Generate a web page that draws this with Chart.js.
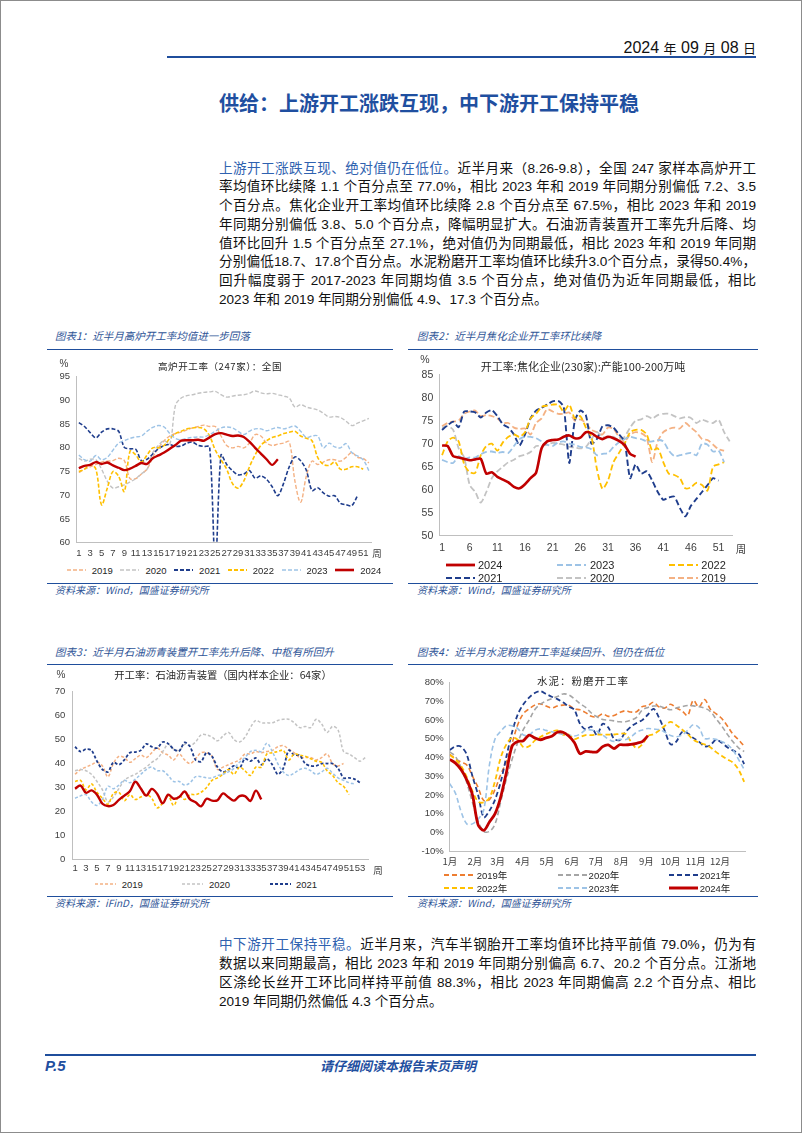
<!DOCTYPE html>
<html><head><meta charset="utf-8">
<script src="https://cdn.jsdelivr.net/npm/chart.js@4.4.0/dist/chart.umd.min.js"></script>
<style>
html,body{margin:0;padding:0;background:#fff;}
#page{position:relative;width:802px;height:1133px;overflow:hidden;font-family:"Liberation Sans","Noto Sans CJK SC",sans-serif;color:#111;}
#frame{position:absolute;left:0;top:0;width:802px;height:1133px;box-sizing:border-box;border:1px solid #8c8c8c;pointer-events:none;}
.abs{position:absolute;white-space:nowrap;}
.rule{position:absolute;height:0;border-top:2px solid #1f4e9c;}
.thin{border-top-width:1.5px;}
.cap{font-family:"Noto Sans CJK SC",sans-serif;font-style:italic;color:#2f5597;font-size:10.5px;line-height:12px;}
.src{font-family:"Noto Sans CJK SC",sans-serif;font-style:italic;color:#2f5597;font-size:10px;line-height:12px;}
.jl{position:absolute;left:219px;width:537px;height:19px;line-height:19px;font-size:13.6px;white-space:nowrap;text-align:justify;text-align-last:justify;font-family:"Liberation Sans Narrow","Liberation Sans","Noto Sans CJK SC",sans-serif;color:#111;}
.jl .cj{font-family:"Noto Sans CJK SC",sans-serif;}
.lead{color:#2f62b0;}
.ctitle{position:absolute;white-space:nowrap;font-family:"Noto Sans CJK SC",sans-serif;color:#262626;transform:translate(-50%,-50%);}
.unit{position:absolute;font-family:"Liberation Sans","Noto Sans CJK SC",sans-serif;color:#404040;transform:translate(-50%,-50%);white-space:nowrap;}
.box{position:absolute;}
.lg{position:absolute;font-family:"Liberation Sans","Noto Sans CJK SC",sans-serif;color:#262626;white-space:nowrap;transform:translateY(-50%);}
</style></head>
<body>
<div id="page">
  <div class="abs" style="right:46px;top:38px;font-size:16px;line-height:20px;font-family:'Liberation Sans Narrow','Liberation Sans','Noto Sans CJK SC',sans-serif;color:#111;">2024 <span style="font-family:'Noto Sans CJK SC';font-size:13px;">年</span> 09 <span style="font-family:'Noto Sans CJK SC';font-size:13px;">月</span> 08 <span style="font-family:'Noto Sans CJK SC';font-size:13px;">日</span></div>
  <div class="rule" style="left:167px;width:589px;top:56px;"></div>

  <div class="abs" style="left:219px;top:90px;font-size:20px;line-height:26px;font-weight:bold;color:#1f4fa0;font-family:'Noto Sans CJK SC',sans-serif;">供给：上游开工涨跌互现，中下游开工保持平稳</div>

  <div id="para1"></div>

  <!-- captions and rules -->
  <div class="abs cap" style="left:55px;top:330px;">图表1：近半月高炉开工率均值进一步回落</div>
  <div class="rule thin" style="left:47px;width:346px;top:349px;"></div>
  <div class="rule thin" style="left:47px;width:346px;top:582.5px;"></div>
  <div class="abs src" style="left:55px;top:584px;">资料来源：Wind，国盛证券研究所</div>

  <div class="abs cap" style="left:417px;top:330px;">图表2：近半月焦化企业开工率环比续降</div>
  <div class="rule thin" style="left:408px;width:350px;top:349px;"></div>
  <div class="rule thin" style="left:408px;width:350px;top:582.5px;"></div>
  <div class="abs src" style="left:417px;top:584px;">资料来源：Wind，国盛证券研究所</div>

  <div class="abs cap" style="left:55px;top:646px;">图表3：近半月石油沥青装置开工率先升后降、中枢有所回升</div>
  <div class="rule thin" style="left:47px;width:346px;top:663.5px;"></div>
  <div class="rule thin" style="left:47px;width:346px;top:895.5px;"></div>
  <div class="abs src" style="left:55px;top:897px;">资料来源：iFinD，国盛证券研究所</div>

  <div class="abs cap" style="left:417px;top:646px;">图表4：近半月水泥粉磨开工率延续回升、但仍在低位</div>
  <div class="rule thin" style="left:408px;width:350px;top:663.5px;"></div>
  <div class="rule thin" style="left:408px;width:350px;top:895.5px;"></div>
  <div class="abs src" style="left:417px;top:897px;">资料来源：Wind，国盛证券研究所</div>

  <!-- charts -->
  <div class="box" style="left:42px;top:360px;width:345px;height:200px;"><canvas id="c1"></canvas></div>
  <div class="box" style="left:410px;top:358px;width:340px;height:200px;"><canvas id="c2"></canvas></div>
  <div class="box" style="left:42px;top:672px;width:340px;height:203px;"><canvas id="c3"></canvas></div>
  <div class="box" style="left:405px;top:665px;width:355px;height:210px;"><canvas id="c4"></canvas></div>

  <div class="ctitle" style="left:220px;top:366px;font-size:9.5px;letter-spacing:0.6px;">高炉开工率（247家）：全国</div>
  <div class="unit" style="left:64px;top:363px;font-size:10px;">%</div>
  <div class="unit" style="left:377px;top:553px;font-size:9.5px;">周</div>

  <div class="ctitle" style="left:583px;top:366px;font-size:11px;">开工率:焦化企业(230家):产能100-200万吨</div>
  <div class="unit" style="left:425px;top:359px;font-size:10.5px;">%</div>
  <div class="unit" style="left:741px;top:548px;font-size:10.5px;">周</div>

  <div class="ctitle" style="left:223px;top:674px;font-size:10.3px;">开工率：石油沥青装置（国内样本企业：64家）</div>
  <div class="unit" style="left:61px;top:674px;font-size:10px;">%</div>
  <div class="unit" style="left:378px;top:870px;font-size:9.5px;">周</div>

  <div class="ctitle" style="left:583px;top:680px;font-size:10.5px;letter-spacing:1px;">水泥：粉磨开工率</div>

  <div id="legends"></div>

  <div id="para2"></div>

  <div class="rule" style="left:45px;width:711px;top:1054px;"></div>
  <div class="abs" style="left:45px;top:1057px;font-size:15px;line-height:18px;font-weight:bold;font-style:italic;color:#1f4fa0;">P.5</div>
  <div class="abs" style="left:320px;top:1057px;font-size:13px;line-height:18px;font-weight:bold;font-style:italic;color:#1f4fa0;font-family:'Noto Sans CJK SC',sans-serif;">请仔细阅读本报告末页声明</div>
  <div id="frame"></div>
</div>
<script>
// ===== DATA =====
// Chart 1: blast furnace operating rate (247 mills), weekly
const bfWeeks = Array.from({length:52},(_, i)=>String(i+1));
const bf2019 = [74.8,75.5,76,76.5,77,77.2,77.3,77.8,77.3,73.5,73.5,74.5,75.5,78,80,81.5,82.5,83,83.3,83.8,84.2,84.5,84.8,84.5,84.5,82.5,80.5,80,80.3,80,81,82.8,82.5,81,80.5,80.8,81,81.3,73,68.5,74,77.2,76.5,77,77.5,77.5,77.2,78,79,78,77.8,76.8];
const bf2020 = [77.8,77.2,77.6,77.5,75.5,73,71.5,71.8,72.2,72.8,73.5,74.5,75.5,79,80.5,81.5,80.8,89,90.5,91,91.2,91.5,91.7,91.8,91.9,91.2,90.7,90.9,91.1,91.2,91.5,92,91.6,91.4,91.5,91.2,90.9,90.5,88.6,89.1,88.6,88.3,88,87.3,86.5,86.6,86.4,85.6,84.7,85.2,85.7,86.2];
const bf2021 = [85.3,84.5,83.2,82.1,83.3,84,84,83.5,80.1,79.8,79.7,77.3,77.6,78.7,79.8,80.5,80.7,80.3,80.4,81,81.2,80.5,80.3,80.2,55,78.5,76.5,75.2,74.3,74.5,75.2,73.6,74.1,73.4,71.8,69.9,72.5,76,78.1,77.3,75.3,71,71.6,70.5,69.8,69.9,68.3,68,67.8,69.9];
const bf2022 = [75,75.5,76.5,75.5,68,71.5,75,74,70.8,79.3,78.5,77,78.5,80,80,80.5,82,83,83.5,84,84.2,84.3,84,82.5,79.5,77.5,75.5,72.5,71.5,73,76,78.5,80.5,81.5,82.2,82.5,83,83.3,83.5,82.5,82,81.5,78,76.5,76.3,77,75.5,75.5,76,76,75.5];
const bf2023 = [78.5,77.5,77.2,78.4,77.5,78,79.5,81,81.5,82,82.3,82.5,83.5,84.3,84.7,84.4,83,82,81.7,82,82.2,82.3,82.3,82.8,83.5,84.2,84.4,84.2,83.5,82.8,83.5,84,84,83.6,84,84.3,84,84.3,84.6,83.5,82.2,82.5,82.5,80,81,80.2,80,80.9,79,78.3,77.5,75.2];
const bf2024 = [75.7,76.2,76.4,77,76.6,76.9,76.3,75.8,75.3,75.6,76.2,76.8,76.6,77.8,78.4,79,79.8,80.6,81.5,81.6,81.6,81.7,81.5,82.2,82.9,83.1,82.8,82.5,82.6,82.3,81.3,80,78.8,77.6,76.4,77.6];

// Chart 2: coking plants operating rate (230 plants, capacity 100-200 Mt), weekly
const ckWeeks = Array.from({length:53},(_, i)=>String(i+1));
const ck2019 = [73.8,74.5,74.8,75,76.5,77,77.2,76,76.2,76,75.5,74.5,74.5,73.5,73.2,73.3,72,74.5,75.5,77.5,77,76.5,76.5,76.8,75,75.3,74.5,73,72.5,72,73.5,73.2,71.5,70.5,72,72.5,72.3,71.3,66,70.5,72.5,73.2,73.5,73.3,74.5,73.5,72.5,71,70.8,69.8,68.8,68.5];
const ck2020 = [73.5,73.8,73,69,67,61,59.5,57.2,59.5,62.5,64,65,66,66.5,67.3,67.6,68.2,69.5,69.5,69.8,70.2,70,69.8,69.3,69.2,69,69.3,71,72.5,71.5,71.3,71.5,70.8,71.5,73.5,75,75.3,76,75.5,76.2,76.5,76.5,76,75.5,75.8,75.6,74.5,75.2,74.8,74.5,75.2,72.5,70.5];
const ck2021 = [73,74,74.8,73.6,77,77,76.8,75.7,76.8,77.3,76,74.2,73.5,72,69.6,72,75.5,77.2,77.8,78.5,79.2,79.3,78,65.8,75,77.2,76.2,70,71,73.8,74,73.5,72,70.5,62.5,65.5,63.5,64,62,59.5,57.8,58.3,58.5,56,54.2,56.5,58,59.5,61,62.5,62];
const ck2022 = [67.5,70.5,71.3,70.5,65.5,63.8,63.7,67.5,69.5,70,68.5,70.3,71.5,72,71.5,72.5,75.5,76.5,78,78.3,78.5,78.5,77,78.5,75.5,76,73.5,71.5,64.5,60.2,62,66,68,70,72.5,73,73,72,68.5,69,66,63.5,63.2,62.5,60.3,60.5,61.5,61,59.8,65,65.5,66];
const ck2023 = [66.5,66,65.8,67.3,66.7,67,67,67.7,68.2,68.3,68,68.2,68,69.5,71,71.5,71.5,71.2,70.5,69.8,69.5,70.3,70.5,70,69.8,69.3,69.2,68.8,67.5,67.8,68,69.3,70.3,71,71.5,71.2,71,70.5,70.5,70.8,70.5,68.5,67.3,67.5,67.8,68,67.5,70,69.8,68.3,68.5,66];
const ck2024 = [69.6,69.5,67.3,67,66.7,66.4,66.6,66.7,63.5,63.8,62.8,62.2,61.6,60.6,60.3,61.2,62.5,63.7,69,70.5,70.8,70.9,71.5,71.8,71.2,71.3,72.5,72.3,71.5,71,71.5,71.2,70.6,69.7,67.8,67.2];

// Chart 3: petroleum asphalt units operating rate (64 firms), weekly
const asWeeks = Array.from({length:54},(_, i)=>String(i+1));
const as2019 = [35.5,37.5,38.5,39.5,40.5,39,34.5,40,43,42.5,40.5,42,43.5,42.5,44.5,46.5,44.5,43.5,41.5,44,41.5,40,42,44.5,44.5,43,37.5,38.5,39.5,40.5,41.5,44,44,45,44.5,45,45.5,47,47.5,46,44.5,42.5,42.5,42.5,41.5,42.5,44,40,39,40];
const as2020 = [37,37.5,37,35.5,32.5,29,24,26,29.5,33,34.5,35.5,37,38.5,40.5,42,45,48,46,45.5,48,47.5,49,52,52,51,49.5,51.5,53,50,49,51,55,58,57,57,57,58,58.5,58.5,57,55,55.5,55,58.5,56.5,53,55.5,54,45,44,42.5,41,42.5];
const as2021 = [47,45,46,45.5,41,37.5,36.5,40.5,39.5,41.5,44.5,44.8,45.5,48.2,47,46.5,49,48.3,46,45.2,48.8,47,41.5,40.8,44.5,43,38.5,36.5,37.5,39,38,42,41,42.3,39.5,42,39.5,35.5,38,45.5,43.5,43.5,40,39,39,40,40,40,38,34,34,33.5,32];
const as2022 = [32.5,33,29,31.5,28,25.5,23,27.5,28,24.5,27,25,26,27,25.5,21.5,23.5,26.5,22.5,26.5,25,27,27,28,30,33,34,35.5,37.5,35.5,38.5,37,35,38.5,38.5,44,44.5,45,45.5,41.5,44,43.5,43,42,41,40.5,37,35,32,30.5,27];
const as2023 = [25.5,26.5,27,24,22.5,25,30.5,29.5,31,33,32,33.5,35.5,37.5,38.5,37,37,35,32.5,32.5,31,32,34.5,34.5,34,34,35,35.5,36.5,38,40.5,42.5,45,45.5,45,48.5,45,40,36.5,35,36,37.5,38,37,35.5,36.5,38,36,34,33,32,31.5];
const as2024 = [29.5,30.8,27.8,28.8,27,23.2,22.2,22.7,24.8,26.6,28.4,32.4,29.6,26.6,29.4,27.3,23.4,27,25.3,26,28.3,25,23.8,22.1,25.3,24.5,24.7,27.5,25.9,24.5,26.4,26.4,24.4,28.7,25];

// Chart 4: cement grinding operating rate (%), weekly through the year
const monthLabels = ['1月','2月','3月','4月','5月','6月','7月','8月','9月','10月','11月','12月'];
const monthStartDay = [0,31,59,90,120,151,181,212,243,273,304,334];
const cm2019 = [41.7,39.3,37.5,36,30,24,17,17.5,23,31,37.5,47.5,57.5,63.5,66,68,68.7,67.5,66.5,67.5,68,68,66,65.5,64,62,61.8,63.3,62,62.5,64,65,64.3,64.5,67.2,67.8,69.5,67,66.5,68.5,66.5,65,62.5,70.5,67,71,66,63.5,61,57,52.5,49.5,46];
const cm2020 = [43,40.5,34.5,26.5,16,6,0.5,0.5,4.5,16.5,28.5,39,48,55,60,65.5,68.5,70.2,71.5,72.6,74,73.5,71.4,68.8,66.8,63.8,61.8,60.3,60,59.6,59.1,59.1,60,61.5,65.4,66.8,67.5,67.4,66.5,65.5,66.5,67.2,67.8,67.6,67.2,66.4,64.7,60.8,57,52.5,48.5,45.2,43.2];
const cm2021 = [44,46,45.8,41.5,30,20,8,11.5,17.5,27,40.5,53.5,63,68.5,72,74.5,75.5,74,72.5,71.2,69.5,67.2,65.5,58,55,56.5,52,58,56,50,49.3,53.5,56.5,58.5,60,63,66,61,54,47,48.5,53.5,53,50.5,48.5,46,46.5,49.5,48,45.5,43.8,42,36.5];
const cm2022 = [41.3,39,35.5,29.5,22,16.5,16,18.5,27.5,40,47,50.5,49.5,45.5,46,49,51,52.5,53.8,54.5,52.2,52.3,49.8,51,52,52,52.3,52.2,52.2,52.3,52.6,52.7,48.5,45,47,51.5,52.5,54.5,57,59,57.3,55,52.5,49.6,48,47,45.5,43,41,39,37.3,33.5,27];
const cm2023 = [26,20.8,11,4.5,4.5,7,12,36,50,54,57,57,55.5,52,52,54.5,55.3,54.5,53.8,53,52.3,52,51.5,52.5,54.7,54.7,54,52,49.8,48.6,49.7,49.5,51,53.5,54.7,55.5,55.2,54.9,53.5,51.8,51.1,52,54.5,57.5,56,50.2,50.2,49.7,48.6,47,44,39,33.5];
const cm2024 = [39,37,33.5,28,20,4,1,5.5,10,19,32,46,48.5,49,52,50.5,49.5,50.5,51.3,53.5,53.5,51.5,48,42,43.3,43,43,45.8,46.7,44.8,46.8,46.7,47,47.6,48.5,51.7];

// ===== STYLES =====
const C = {
  o: '#f4b183', g: '#c3c3c3', db: '#1f3d8c', y: '#ffc000', lb: '#9dc3e6', r: '#c00000',
  o4: '#ed7d31', g4: '#a5a5a5'
};
Chart.defaults.font.family = '"Liberation Sans", Arial, sans-serif';
Chart.defaults.color = '#404040';
Chart.defaults.animation = false;

function ds(label, data, color, dash, width, order, tension) {
  return { label, data, borderColor: color, backgroundColor: color, borderWidth: width,
    borderDash: dash, pointRadius: 0, pointHoverRadius: 0, fill: false, tension: tension,
    order: order, spanGaps: false };
}
function baseOpts(o) {
  return {
    responsive: true, maintainAspectRatio: false, animation: false,
    layout: { padding: { top: o.padTop, right: o.padRight, left: 0, bottom: 0 } },
    plugins: { legend: { display: false }, tooltip: { enabled: false } },
    scales: {
      x: o.x,
      y: {
        min: o.ymin, max: o.ymax,
        afterFit: s => { s.width = o.yw; },
        grid: { display: false, drawTicks: false },
        border: { display: true, color: '#bfbfbf', width: 1 },
        ticks: { stepSize: o.ystep, padding: o.ypad, font: { size: o.yfont }, color: '#404040',
                 callback: o.yfmt || (v => v) }
      }
    }
  };
}
function catX(o) {
  return {
    type: 'category', offset: true,
    afterFit: s => { s.height = o.xh; },
    grid: { display: false, drawTicks: false, offset: true },
    border: { display: true, color: '#bfbfbf', width: 1 },
    ticks: { autoSkip: false, maxRotation: 0, minRotation: 0, padding: o.xpad, font: { size: o.xfont }, color: '#404040',
             callback: function(v, i) { return (i % o.every === 0) ? this.getLabelForValue(v) : ''; } }
  };
}

// Chart 1
new Chart(document.getElementById('c1'), {
  type: 'line',
  data: { labels: bfWeeks, datasets: [
    ds('2019', bf2019, C.o, [4,2], 1.4, 6, 0.35),
    ds('2020', bf2020, C.g, [4,2], 1.4, 5, 0.35),
    ds('2021', bf2021, C.db, [4,2], 1.6, 4, 0.3),
    ds('2022', bf2022, C.y, [4,2], 1.6, 3, 0.35),
    ds('2023', bf2023, C.lb, [4,2], 1.4, 2, 0.35),
    ds('2024', bf2024, C.r, [], 2.4, 0, 0.3)
  ]},
  options: baseOpts({ padTop: 16.7, padRight: 15.3, yw: 34, ymin: 60, ymax: 95, ystep: 5, ypad: 6, yfont: 9.5,
    x: catX({ xh: 17.3, xpad: 5, xfont: 9.5, every: 2 }) })
});

// Chart 2
new Chart(document.getElementById('c2'), {
  type: 'line',
  data: { labels: ckWeeks, datasets: [
    ds('2024', ck2024, C.r, [], 2.6, 0, 0.25),
    ds('2023', ck2023, C.lb, [6,3], 1.8, 2, 0.25),
    ds('2022', ck2022, C.y, [6,3], 1.8, 3, 0.25),
    ds('2021', ck2021, C.db, [6,3], 1.9, 4, 0.2),
    ds('2020', ck2020, C.g, [6,3], 1.8, 5, 0.25),
    ds('2019', ck2019, C.o, [6,3], 1.8, 6, 0.25)
  ]},
  options: baseOpts({ padTop: 16.7, padRight: 17.6, yw: 29.3, ymin: 50, ymax: 85, ystep: 5, ypad: 6, yfont: 10.5,
    x: catX({ xh: 22.3, xpad: 6, xfont: 10.5, every: 5 }) })
});

// Chart 3
new Chart(document.getElementById('c3'), {
  type: 'line',
  data: { labels: asWeeks, datasets: [
    ds('2019', as2019, C.o, [3,2], 1.5, 6, 0.35),
    ds('2020', as2020, C.g, [3,2], 1.5, 5, 0.35),
    ds('2021', as2021, C.db, [3,2], 1.8, 4, 0.3),
    ds('2022', as2022, C.y, [3,2], 1.6, 3, 0.35),
    ds('2023', as2023, C.lb, [3,2], 1.5, 2, 0.35),
    ds('2024', as2024, C.r, [], 2.4, 0, 0.35)
  ]},
  options: baseOpts({ padTop: 19.7, padRight: 13.8, yw: 30.3, ymin: 0, ymax: 70, ystep: 10, ypad: 7, yfont: 9.5,
    x: catX({ xh: 15.7, xpad: 3, xfont: 9.5, every: 2 }) })
});

// Chart 4 (linear day-of-year axis, weekly points)
function weekPts(arr) { return arr.map((v, i) => ({ x: i * 7, y: v })); }
const opt4 = baseOpts({ padTop: 17.7, padRight: 15, yw: 44.8, ymin: -10, ymax: 80, ystep: 10, ypad: 6, yfont: 9.5,
  yfmt: v => v + '%',
  x: {
    type: 'linear', min: 0, max: 365,
    afterFit: s => { s.height = 24; },
    afterBuildTicks: s => { s.ticks = monthStartDay.map(v => ({ value: v })); },
    grid: { display: false, drawTicks: false },
    border: { display: true, color: '#bfbfbf', width: 1 },
    ticks: { autoSkip: false, maxRotation: 0, minRotation: 0, padding: 5, font: { size: 9.5, family: '"Noto Sans CJK SC","Liberation Sans",sans-serif' }, color: '#404040',
      callback: (v) => { const k = monthStartDay.indexOf(v); return k >= 0 ? monthLabels[k] : ''; } }
  }
});
new Chart(document.getElementById('c4'), {
  type: 'line',
  data: { datasets: [
    ds('2019年', weekPts(cm2019), C.o4, [5,3], 1.6, 6, 0.35),
    ds('2020年', weekPts(cm2020), C.g4, [5,3], 1.6, 5, 0.35),
    ds('2021年', weekPts(cm2021), C.db, [5,3], 1.8, 4, 0.3),
    ds('2022年', weekPts(cm2022), C.y, [5,3], 1.8, 3, 0.35),
    ds('2023年', weekPts(cm2023), C.lb, [5,3], 1.6, 2, 0.35),
    ds('2024年', weekPts(cm2024), C.r, [], 2.8, 0, 0.3)
  ]},
  options: opt4
});

// ===== LEGENDS (HTML) =====
const legendHost = document.getElementById('legends');
function lgItem(x, y, len, color, dash, w, label, tx, fs) {
  const svg = document.createElementNS('http://www.w3.org/2000/svg', 'svg');
  svg.setAttribute('width', len); svg.setAttribute('height', 6);
  svg.style.position = 'absolute'; svg.style.left = x + 'px'; svg.style.top = (y - 3) + 'px';
  const ln = document.createElementNS('http://www.w3.org/2000/svg', 'line');
  ln.setAttribute('x1', 0); ln.setAttribute('x2', len); ln.setAttribute('y1', 3); ln.setAttribute('y2', 3);
  ln.setAttribute('stroke', color); ln.setAttribute('stroke-width', w);
  if (dash) ln.setAttribute('stroke-dasharray', dash);
  svg.appendChild(ln); legendHost.appendChild(svg);
  const t = document.createElement('div'); t.className = 'lg';
  t.style.left = tx + 'px'; t.style.top = y + 'px'; t.style.fontSize = fs + 'px'; t.textContent = label;
  legendHost.appendChild(t);
}
// chart 1 legend
[['2019', C.o, '4,2', 1.6], ['2020', C.g, '4,2', 1.6], ['2021', C.db, '4,2', 1.8], ['2022', C.y, '4,2', 1.8], ['2023', C.lb, '4,2', 1.6], ['2024', C.r, null, 2.6]]
  .forEach((it, k) => { const x0 = 66.7 + k * 53.7; lgItem(x0, 570, 19, it[1], it[2], it[3], it[0], x0 + 25, 9.5); });
// chart 2 legend
const l2x = [445.5, 556.6, 669], l2t = [478, 590, 701.3], l2y = [564.6, 578.3];
[['2024', C.r, null, 2.8], ['2023', C.lb, '6,3', 2], ['2022', C.y, '6,3', 2], ['2021', C.db, '6,3', 2], ['2020', C.g, '6,3', 2], ['2019', C.o, '6,3', 2]]
  .forEach((it, k) => { const c = k % 3, r = Math.floor(k / 3); lgItem(l2x[c], l2y[r], 29, it[1], it[2], it[3], it[0], l2t[c], 11); });
// chart 3 legend
const l3x = [95, 182, 270], l3t = [121.7, 209, 296];
[['2019', C.o, '3,2', 1.6], ['2020', C.g, '3,2', 1.6], ['2021', C.db, '3,2', 2]]
  .forEach((it, k) => lgItem(l3x[k], 884, 21, it[1], it[2], it[3], it[0], l3t[k], 9.5));
// chart 4 legend
const l4x = [443.7, 557.5, 668.6], l4t = [476.7, 588.6, 699.7], l4y = [875, 888];
[['2019年', C.o4, '5,3', 1.8], ['2020年', C.g4, '5,3', 1.8], ['2021年', C.db, '5,3', 2], ['2022年', C.y, '5,3', 2], ['2023年', C.lb, '5,3', 1.8], ['2024年', C.r, null, 3]]
  .forEach((it, k) => { const c = k % 3, r = Math.floor(k / 3); lgItem(l4x[c], l4y[r], 29, it[1], it[2], it[3], it[0], l4t[c], 9.5); });

// ===== PARAGRAPHS =====
const para1 = [
  ['上游开工涨跌互现、绝对值仍在低位。', '近半月来（8.26-9.8），全国 247 家样本高炉开工'],
  ['', '率均值环比续降 1.1 个百分点至 77.0%，相比 2023 年和 2019 年同期分别偏低 7.2、3.5'],
  ['', '个百分点。焦化企业开工率均值环比续降 2.8 个百分点至 67.5%，相比 2023 年和 2019'],
  ['', '年同期分别偏低 3.8、5.0 个百分点，降幅明显扩大。石油沥青装置开工率先升后降、均'],
  ['', '值环比回升 1.5 个百分点至 27.1%，绝对值仍为同期最低，相比 2023 年和 2019 年同期'],
  ['', '分别偏低18.7、17.8个百分点。水泥粉磨开工率均值环比续升3.0个百分点，录得50.4%，'],
  ['', '回升幅度弱于 2017-2023 年同期均值 3.5 个百分点，绝对值仍为近年同期最低，相比'],
  ['', '2023 年和 2019 年同期分别偏低 4.9、17.3 个百分点。']
];
const para2 = [
  ['中下游开工保持平稳。', '近半月来，汽车半钢胎开工率均值环比持平前值 79.0%，仍为有'],
  ['', '数据以来同期最高，相比 2023 年和 2019 年同期分别偏高 6.7、20.2 个百分点。江浙地'],
  ['', '区涤纶长丝开工环比同样持平前值 88.3%，相比 2023 年同期偏高 2.2 个百分点、相比'],
  ['', '2019 年同期仍然偏低 4.3 个百分点。']
];
function wrapCJK(s) {
  return s.replace(/([\u3000-\u9fff\uff00-\uffef]+)/g, '<span class="cj">$1</span>');
}
function buildPara(hostId, lines, top0, step) {
  const host = document.getElementById(hostId);
  lines.forEach((ln, k) => {
    const d = document.createElement('div');
    d.className = 'jl';
    d.style.top = (top0 + k * step) + 'px';
    const last = k === lines.length - 1;
    if (last) d.style.textAlignLast = 'left';
    d.innerHTML = '<span class="in">' + (ln[0] ? '<span class="lead">' + wrapCJK(ln[0]) + '</span>' : '') + wrapCJK(ln[1]) + '</span>';
    host.appendChild(d);
    const prev = d.style.textAlignLast;
    d.style.textAlignLast = 'left';
    const w = d.querySelector('.in').getBoundingClientRect().width;
    d.style.textAlignLast = prev;
    if (w > 537) {
      const n = (ln[0] + ln[1]).length;
      d.style.letterSpacing = ((537 - w) / n) + 'px';
    }
  });
}
buildPara('para1', para1, 157.5, 18.75);
buildPara('para2', para2, 933.5, 19.2);
</script>
</body></html>
